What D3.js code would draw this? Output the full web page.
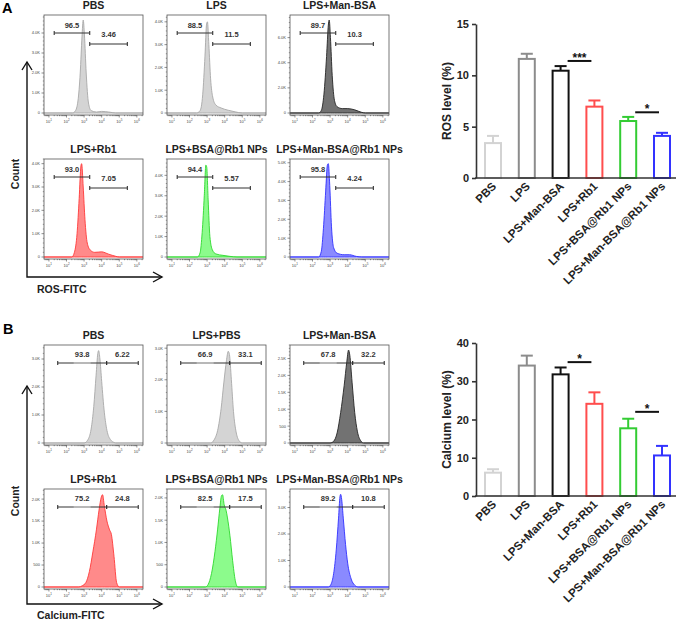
<!DOCTYPE html>
<html>
<head>
<meta charset="utf-8">
<script src="https://cdn.jsdelivr.net/npm/d3@7"></script>
<style>
  body { margin: 0; background: #fff; }
  svg { display: block; }
  text { font-family: "Liberation Sans", Arial, sans-serif; }
</style>
</head>
<body>
<svg id="fig" width="681" height="620"></svg>
<script>
// ---- data ----
const histTitlesA = ['PBS', 'LPS', 'LPS+Man-BSA', 'LPS+Rb1', 'LPS+BSA@Rb1 NPs', 'LPS+Man-BSA@Rb1 NPs'];
const histTitlesB = ['PBS', 'LPS+PBS', 'LPS+Man-BSA', 'LPS+Rb1', 'LPS+BSA@Rb1 NPs', 'LPS+Man-BSA@Rb1 NPs'];
const gateValsA = [['96.5', '3.46'], ['88.5', '11.5'], ['89.7', '10.3'], ['93.0', '7.05'], ['94.4', '5.57'], ['95.8', '4.24']];
const gateValsB = [['93.8', '6.22'], ['66.9', '33.1'], ['67.8', '32.2'], ['75.2', '24.8'], ['82.5', '17.5'], ['89.2', '10.8']];
const gatePosA = [1.3, 3.32, 5.46];   // log10 fluorescence
const gatePosB = [1.5, 4.28, 6.08];
const yMaxA = [4.9, 4.3, 7.8, 4.2, 4.8, 5.2];   // thousands of events
const yMaxB = [3.5, 3.1, 2.9, 2.23, 2.2, 3.7];
const yTicksA = [[0, 1, 2, 3, 4], [0, 1, 2, 3, 4], [0, 2, 4, 6], [0, 1, 2, 3, 4], [0, 1, 2, 3, 4], [0, 1, 2, 3, 4, 5]];
const yTicksB = [[0, 1, 2, 3], [0, 1, 2, 3], [0, 0.5, 1, 1.5, 2, 2.5], [0, 0.5, 1, 1.5, 2], [0, 0.5, 1, 1.5, 2], [0, 1, 2, 3]];

// histogram outlines: [log10 FITC, count (K)]
const rosCurves = [
  [[2.35,0],[2.5,0.1],[2.65,0.6],[2.78,2.0],[2.88,3.8],[2.95,4.65],[3.02,3.9],[3.12,2.0],[3.25,0.5],[3.4,0.12],[3.7,0.05],[4.0,0.08],[4.4,0.05],[4.8,0]],
  [[2.4,0],[2.6,0.1],[2.75,0.8],[2.88,2.5],[2.97,3.9],[3.02,4.0],[3.1,3.0],[3.2,1.5],[3.32,0.7],[3.5,0.35],[3.8,0.22],[4.2,0.12],[4.6,0.05],[5.0,0]],
  [[2.35,0],[2.5,0.2],[2.65,1.5],[2.8,4.5],[2.9,7.0],[2.95,7.4],[3.02,6.0],[3.12,3.0],[3.25,1.0],[3.4,0.5],[3.7,0.35],[4.0,0.35],[4.4,0.25],[4.8,0.05],[5.0,0]],
  [[2.3,0],[2.45,0.2],[2.6,1.0],[2.72,2.5],[2.82,3.9],[2.86,4.0],[2.95,3.0],[3.05,1.6],[3.18,0.6],[3.35,0.3],[3.6,0.2],[4.0,0.22],[4.4,0.12],[4.8,0.03],[5.0,0]],
  [[2.45,0],[2.6,0.2],[2.72,1.2],[2.84,3.0],[2.93,4.5],[2.98,4.4],[3.06,2.8],[3.16,1.0],[3.3,0.35],[3.5,0.15],[3.9,0.08],[4.3,0.03],[4.7,0]],
  [[2.35,0],[2.5,0.3],[2.62,1.5],[2.75,3.5],[2.85,4.9],[2.9,4.95],[2.98,3.8],[3.08,1.6],[3.2,0.5],[3.4,0.2],[3.8,0.12],[4.1,0.12],[4.5,0.03],[4.8,0]]
];
const caCurves = [
  [[3.0,0],[3.2,0.1],[3.4,0.5],[3.55,1.3],[3.68,2.4],[3.78,3.2],[3.83,3.3],[3.9,3.0],[4.0,2.2],[4.15,1.1],[4.3,0.45],[4.5,0.12],[4.7,0.02],[4.8,0]],
  [[3.2,0],[3.4,0.1],[3.6,0.4],[3.8,1.1],[3.95,1.9],[4.1,2.6],[4.2,2.9],[4.27,2.8],[4.38,2.0],[4.5,1.0],[4.65,0.35],[4.85,0.05],[5.0,0]],
  [[3.0,0],[3.2,0.05],[3.4,0.3],[3.6,0.9],[3.8,1.7],[3.95,2.4],[4.05,2.75],[4.12,2.6],[4.25,1.8],[4.4,0.9],[4.55,0.35],[4.75,0.06],[4.9,0]],
  [[2.7,0],[2.9,0.03],[3.1,0.1],[3.3,0.35],[3.5,0.8],[3.7,1.3],[3.85,1.75],[3.98,2.05],[4.05,2.1],[4.15,1.85],[4.3,1.5],[4.45,1.3],[4.55,1.2],[4.7,0.7],[4.85,0.1],[5.0,0]],
  [[2.9,0],[3.05,0.05],[3.25,0.3],[3.45,0.8],[3.6,1.3],[3.72,1.75],[3.82,2.05],[3.88,2.07],[3.97,1.85],[4.08,1.72],[4.16,1.55],[4.3,1.15],[4.45,0.6],[4.6,0.15],[4.75,0]],
  [[2.9,0],[3.05,0.1],[3.2,0.5],[3.35,1.4],[3.48,2.6],[3.56,3.4],[3.6,3.5],[3.66,3.3],[3.75,2.6],[3.88,1.6],[4.0,0.9],[4.2,0.3],[4.4,0.07],[4.6,0]]
];

// bar charts
const groups = ['PBS', 'LPS', 'LPS+Man-BSA', 'LPS+Rb1', 'LPS+BSA@Rb1 NPs', 'LPS+Man-BSA@Rb1 NPs'];
const rosMean = [3.4, 11.6, 10.45, 6.95, 5.55, 4.1];
const rosErr = [0.7, 0.5, 0.45, 0.6, 0.4, 0.3];
const rosSig = [[2, 3, '***', 11.4], [4, 5, '*', 6.4]];
const caMean = [6.1, 34.1, 31.8, 24.1, 17.7, 10.6];
const caErr = [0.9, 2.6, 1.8, 3.0, 2.5, 2.5];
const caSig = [[2, 3, '*', 35.0], [4, 5, '*', 22.0]];

// ---- styles ----
const tones = ['light', 'light', 'dark', 'red', 'green', 'blue'];
const toneFill = { light: '#d4d4d4', dark: '#727272', red: '#ff8a8a', green: '#8cfb8c', blue: '#8a8aff' };
const toneLine = { light: '#a8a8a8', dark: '#262626', red: '#ff3a3a', green: '#2ed82e', blue: '#3030ff' };
const barColors = ['#d3d3d3', '#8c8c8c', '#111111', '#ff4d4d', '#33cc33', '#3333ff'];

const svg = d3.select('#fig');
const colX = [44, 167, 290];
const boxW = 99, boxH = 100;
const logDomain = [0.72, 6.35];

function fmtK(v) {
  if (v === 0) return '0';
  if (v < 1) return String(Math.round(v * 1000));
  return v.toFixed(1) + 'K';
}

function drawHist(x0, top, title, pts, yMax, yTicks, tone, gv, gp, style) {
  const g = svg.append('g');
  const x = d3.scaleLinear().domain(logDomain).range([x0, x0 + boxW]);
  const y = d3.scaleLinear().domain([0, yMax]).range([top + boxH - 2, top]);

  g.append('text')
    .attr('x', x0 + boxW / 2).attr('y', top - 6)
    .attr('text-anchor', 'middle')
    .style('font-size', '10.5px').style('font-weight', 'bold').style('fill', '#222')
    .text(title);

  const line = [[logDomain[0], 0], ...pts, [logDomain[1], 0]];
  const area = d3.area().x(d => x(d[0])).y0(y(0)).y1(d => y(d[1])).curve(d3.curveMonotoneX);
  g.append('path').attr('d', area(line))
    .attr('fill', toneFill[tone]).attr('stroke', toneLine[tone]).attr('stroke-width', 0.9);

  g.append('rect')
    .attr('x', x0).attr('y', top).attr('width', boxW).attr('height', boxH)
    .attr('fill', 'none').attr('stroke', '#555').attr('stroke-width', 0.8);

  // x ticks (log)
  const bottom = top + boxH;
  for (let n = 0; n <= 6; n++) {
    for (let k = 1; k <= 9; k++) {
      const v = n + Math.log10(k);
      if (v < logDomain[0] || v > logDomain[1]) continue;
      const len = k === 1 ? 2.5 : 1.2;
      g.append('line').attr('x1', x(v)).attr('x2', x(v)).attr('y1', bottom).attr('y2', bottom + len)
        .attr('stroke', '#444').attr('stroke-width', 0.6);
    }
    if (n >= 1) {
      const t = g.append('text').attr('x', x(n)).attr('y', bottom + 7.5)
        .attr('text-anchor', 'middle').style('font-size', '4px').style('fill', '#444');
      t.append('tspan').text('10');
      t.append('tspan').attr('dy', -1.5).style('font-size', '3px').text(n);
    }
  }
  // y ticks
  const step = yTicks[1] - yTicks[0];
  yTicks.forEach(v => {
    g.append('line').attr('x1', x0).attr('x2', x0 - 2.5).attr('y1', y(v)).attr('y2', y(v))
      .attr('stroke', '#444').attr('stroke-width', 0.6);
    g.append('text').attr('x', x0 - 4).attr('y', y(v)).attr('dy', '0.35em')
      .attr('text-anchor', 'end').style('font-size', '4px').style('fill', '#444').text(fmtK(v));
    for (let m = 1; m < 5; m++) {
      const mv = v + step * m / 5;
      if (mv > yMax) break;
      g.append('line').attr('x1', x0).attr('x2', x0 - 1.2).attr('y1', y(mv)).attr('y2', y(mv))
        .attr('stroke', '#444').attr('stroke-width', 0.5);
    }
  });

  // gates
  const gates = style === 'A'
    ? [[gp[0], gp[1], top + 18, top + 13], [gp[1], gp[2], top + 29, top + 22]]
    : [[gp[0], gp[1], top + 18, top + 12], [gp[1], gp[2], top + 18, top + 12]];
  gates.forEach((gt, i) => {
    const xa = x(gt[0]), xb = x(gt[1]), cx = (xa + xb) / 2;
    g.append('line').attr('x1', xa).attr('x2', xb).attr('y1', gt[2]).attr('y2', gt[2])
      .attr('stroke', '#333').attr('stroke-width', 1.1);
    if (style === 'B' && i === 0) {
      g.append('line').attr('x1', cx - 8.5).attr('x2', cx + 8.5).attr('y1', gt[2]).attr('y2', gt[2])
        .attr('stroke', '#d4d4d4').attr('stroke-width', 1.1);
    }
    [xa, xb].forEach(xx => g.append('line').attr('x1', xx).attr('x2', xx)
      .attr('y1', gt[2] - 2).attr('y2', gt[2] + 2).attr('stroke', '#333').attr('stroke-width', 1.1));
    g.append('text').attr('x', cx).attr('y', gt[3]).attr('text-anchor', 'middle')
      .style('font-size', '7.5px').style('font-weight', 'bold').style('fill', '#333').text(gv[i]);
  });
}

function drawArrows(topTip, corner, label, labelY, countY) {
  const g = svg.append('g').attr('stroke', '#111').attr('stroke-width', 1.4).attr('fill', 'none');
  g.append('path').attr('d', `M27,${topTip}V${corner}H162`);
  g.append('path').attr('d', `M22,${topTip + 8}L27,${topTip}L32,${topTip + 8}`);
  g.append('path').attr('d', `M153,${corner - 5}L162,${corner}L153,${corner + 5}`);
  svg.append('text').attr('transform', `translate(19,${countY}) rotate(-90)`)
    .attr('text-anchor', 'middle').style('font-size', '10.5px').style('font-weight', 'bold')
    .style('fill', '#222').text('Count');
  svg.append('text').attr('x', 37).attr('y', labelY)
    .style('font-size', '10.5px').style('font-weight', 'bold').style('fill', '#222').text(label);
}

function drawBars(yTop, yBottom, yMax, ticks, means, errs, sigs, label) {
  const g = svg.append('g');
  const x = d3.scalePoint().domain(groups).range([493, 662]);
  const y = d3.scaleLinear().domain([0, yMax]).range([yBottom, yTop]);

  groups.forEach((grp, i) => {
    const cx = x(grp);
    g.append('line').attr('x1', cx).attr('x2', cx).attr('y1', y(means[i])).attr('y2', y(means[i] + errs[i]))
      .attr('stroke', barColors[i]).attr('stroke-width', 2);
    g.append('line').attr('x1', cx - 6).attr('x2', cx + 6)
      .attr('y1', y(means[i] + errs[i])).attr('y2', y(means[i] + errs[i]))
      .attr('stroke', barColors[i]).attr('stroke-width', 2);
    g.append('rect').attr('x', cx - 8).attr('width', 16)
      .attr('y', y(means[i])).attr('height', y(0) - y(means[i]))
      .attr('fill', '#fff').attr('stroke', barColors[i]).attr('stroke-width', 2);
    g.append('text').attr('transform', `translate(${cx + 4},${yBottom + 9}) rotate(-45)`)
      .attr('text-anchor', 'end').style('font-size', '11.5px').style('font-weight', 'bold')
      .style('fill', '#222').text(grp);
  });

  const ax = g.append('g').attr('transform', 'translate(476,0)')
    .call(d3.axisLeft(y).tickValues(ticks).tickSize(4).tickSizeOuter(0).tickPadding(3));
  ax.select('.domain').attr('stroke', '#333').attr('stroke-width', 1.6);
  ax.selectAll('.tick line').attr('stroke', '#333').attr('stroke-width', 1.6);
  ax.selectAll('.tick text').style('font-size', '11px').style('font-weight', 'bold')
    .style('fill', '#222').style('font-family', '"Liberation Sans", Arial, sans-serif');
  g.append('line').attr('x1', 475).attr('x2', 676).attr('y1', y(0)).attr('y2', y(0))
    .attr('stroke', '#333').attr('stroke-width', 1.6);

  sigs.forEach(s => {
    const xa = x(groups[s[0]]) + 7, xb = x(groups[s[1]]) - 3, yy = y(s[3]);
    g.append('line').attr('x1', xa).attr('x2', xb).attr('y1', yy).attr('y2', yy)
      .attr('stroke', '#111').attr('stroke-width', 2);
    g.append('text').attr('x', (xa + xb) / 2).attr('y', yy + 1).attr('text-anchor', 'middle')
      .style('font-size', '12px').style('font-weight', 'bold').style('fill', '#111').text(s[2]);
  });

  g.append('text').attr('transform', `translate(451,${(yTop + yBottom) / 2}) rotate(-90)`)
    .attr('text-anchor', 'middle').style('font-size', '12px').style('font-weight', 'bold')
    .style('fill', '#222').text(label);
}

// panel letters
svg.append('text').attr('x', 2).attr('y', 13).style('font-size', '14.5px').style('font-weight', 'bold').text('A');
svg.append('text').attr('x', 3).attr('y', 334).style('font-size', '14.5px').style('font-weight', 'bold').text('B');

// histograms, panels A and B
const rowTopA = [15, 159];
const rowTopB = [345, 489];
for (let i = 0; i < 6; i++) {
  const cx = colX[i % 3], r = Math.floor(i / 3);
  drawHist(cx, rowTopA[r], histTitlesA[i], rosCurves[i], yMaxA[i], yTicksA[i], tones[i], gateValsA[i], gatePosA, 'A');
  drawHist(cx, rowTopB[r], histTitlesB[i], caCurves[i], yMaxB[i], yTicksB[i], tones[i], gateValsB[i], gatePosB, 'B');
}
drawArrows(62, 277, 'ROS-FITC', 293, 174);
drawArrows(386, 604, 'Calcium-FITC', 619, 501);

drawBars(24, 178, 15, [0, 5, 10, 15], rosMean, rosErr, rosSig, 'ROS level (%)');
drawBars(343, 496, 40, [0, 10, 20, 30, 40], caMean, caErr, caSig, 'Calcium level (%)');
</script>
</body>
</html>
